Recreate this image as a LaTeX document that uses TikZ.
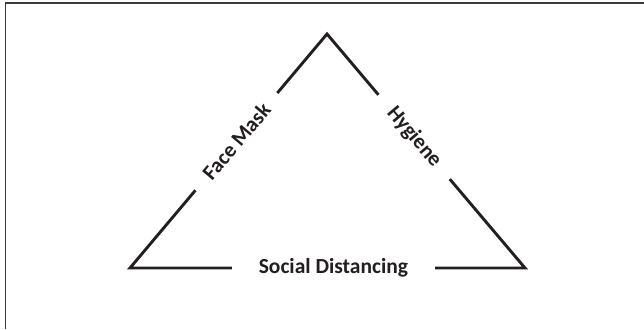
\documentclass[tikz,border=0pt]{standalone}
\usepackage{fontspec}
\setmainfont{Carlito}
\usetikzlibrary{positioning,calc}
\definecolor{cLine} {HTML}{231F20}
\definecolor{cFrame}{HTML}{3B3B3B}
\tikzset{
  side/.style  ={draw=cLine,line width=2.9pt,miter limit=10},
  pillar/.style={font=\fontsize{21.5}{25}\selectfont\bfseries,text=cLine,
                 fill=white,inner ysep=2pt},
  frame/.style ={draw=cFrame,line width=1.3pt},
}

\begin{document}
\begin{tikzpicture}[x=1pt,y=1pt]
\useasboundingbox (0,0) rectangle (644,329);

% page frame, only its top and left edges fall inside
\draw[frame] (5.5,0) -- (5.5,326) -- (644,326);

% corners of the triangle
\coordinate (L) at (130,61);
\coordinate (A) at (327,295);
\coordinate (R) at (525,61);
\draw[side] (L) -- (A) -- (R) -- cycle;

% one label on each side, breaking the line
\path (L) -- (A) node[pillar,pos=0.54,sloped,inner xsep=17pt] (mask) {Face Mask};
\path (A) -- (R) node[pillar,pos=0.44,sloped,inner xsep=19pt] (hyg)  {Hygiene};
\path (L) -- (R) node[pillar,pos=0.515,inner xsep=26.5pt]     (dist) {Social Distancing};
\end{tikzpicture}
\end{document}
